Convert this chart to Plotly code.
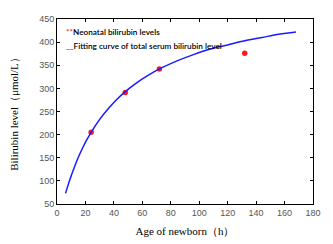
import plotly.graph_objects as go

# Measured neonatal bilirubin levels
age_points = [24, 48, 72, 132]
bili_points = [205, 291, 342, 376]

# Fitting curve
age_curve = [6, 8, 10, 12, 15, 18, 21, 24, 30, 36, 42, 48, 56, 64, 72, 84, 96, 108, 120, 132, 144, 156, 168]
bili_curve = [73, 93, 111, 128, 151, 171, 189, 205, 233, 256, 276, 293, 312, 328, 342, 359, 373, 385, 394, 403, 410, 417, 422]

x_ticks = [0, 20, 40, 60, 80, 100, 120, 140, 160, 180]
y_ticks = [50, 100, 150, 200, 250, 300, 350, 400, 450]

legend_labels = ["Neonatal bilirubin levels", "Fitting curve of total serum bilirubin level"]

fig = go.Figure()
fig.add_trace(go.Scatter(
    x=age_points, y=bili_points, mode="markers",
    name=legend_labels[0],
    marker=dict(color="#ff1a1a", size=5.5, symbol="circle"),
))
fig.add_trace(go.Scatter(
    x=age_curve, y=bili_curve, mode="lines", line_shape="spline",
    name=legend_labels[1],
    line=dict(color="#1a1aff", width=1.5),
))

axis_common = dict(
    showgrid=False, zeroline=False, showline=True, linecolor="black", linewidth=1,
    mirror="ticks", ticks="inside", ticklen=3, tickcolor="black", automargin=False,
    tickfont=dict(family="Liberation Sans", size=9, color="#555555"),
)
fig.update_xaxes(range=[0, 180], tickvals=x_ticks,
                 title=dict(text="Age of newborn（h）", standoff=10,
                            font=dict(family="Liberation Serif", size=11, color="black")),
                 **axis_common)
fig.update_yaxes(range=[50, 450], tickvals=y_ticks,
                 title=dict(text="Bilirubin level（μmol/L）", standoff=18,
                            font=dict(family="Liberation Serif", size=11, color="black")),
                 **axis_common)

legend_font = dict(family="Lato", size=8.2, color="black", weight=600)
fig.add_annotation(xref="paper", yref="paper", x=0.027, y=0.93, xanchor="left", yanchor="middle",
                   showarrow=False, font=legend_font,
                   text='<span style="color:#ff1a1a">**</span>' + legend_labels[0])
fig.add_annotation(xref="paper", yref="paper", x=0.027, y=0.852, xanchor="left", yanchor="middle",
                   showarrow=False, font=legend_font,
                   text='<span style="color:#1a1aff">__</span>' + legend_labels[1])

fig.update_layout(
    width=333, height=244,
    margin=dict(l=57, r=20, t=19, b=40),
    plot_bgcolor="white", paper_bgcolor="white",
    showlegend=False,
)

fig.write_html("out.html", config={"displayModeBar": False},
               post_script="document.body.style.margin='0';")
